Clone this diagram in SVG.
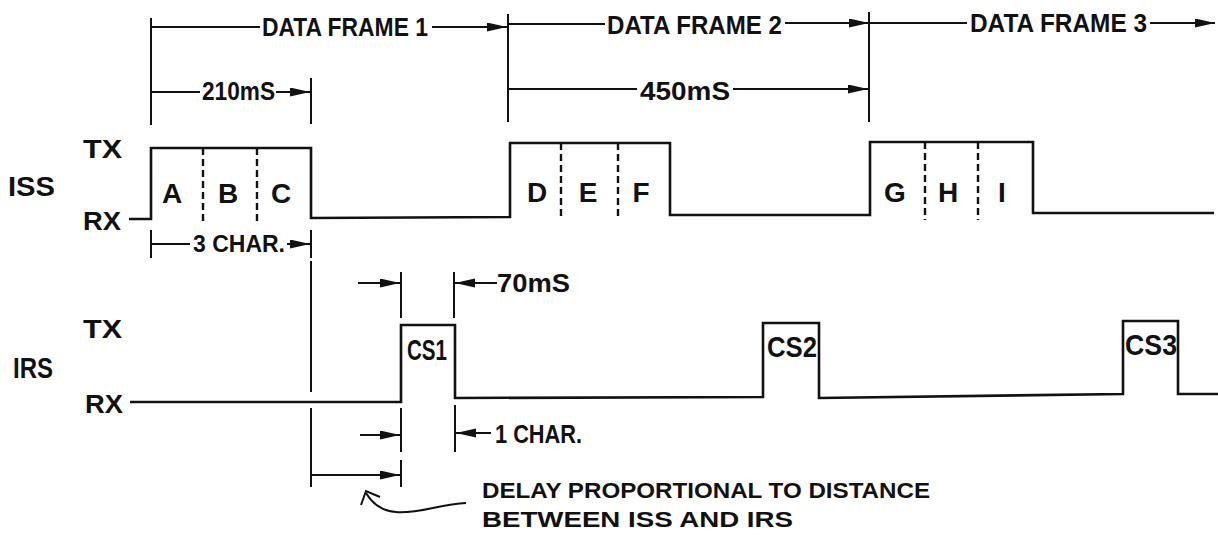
<svg xmlns="http://www.w3.org/2000/svg" width="1218" height="541" viewBox="0 0 1218 541">
<defs>
<style>
.t{font-family:"Liberation Sans",Arial,sans-serif;font-weight:bold;fill:#111;}
.s25{font-size:25px;}
.s23{font-size:23px;}
.s22{font-size:22px;}
.s28{font-size:28px;}
.s30{font-size:30px;}
.w{fill:none;stroke:#111;stroke-width:2.6;stroke-linejoin:miter;}
.l{fill:none;stroke:#111;stroke-width:2;}
.d{fill:none;stroke:#111;stroke-width:2.4;stroke-dasharray:7,4;}
.a{marker-end:url(#ah);}
</style>
<marker id="ah" markerUnits="userSpaceOnUse" markerWidth="22" markerHeight="10" refX="20" refY="4.5" orient="auto">
<path d="M0,0 L20,4.5 L0,9 Z" fill="#111"/>
</marker>
</defs>
<rect width="1218" height="541" fill="#fff"/>

<g id="connectors">
<line class="l" x1="151" y1="27" x2="260" y2="27"/>
<line class="l a" x1="432" y1="27" x2="507" y2="27"/>
<line class="l" x1="508" y1="24" x2="605" y2="24"/>
<line class="l a" x1="785" y1="23" x2="869" y2="23"/>
<line class="l" x1="870" y1="23" x2="967" y2="23"/>
<line class="l a" x1="1150" y1="23" x2="1215" y2="23"/>
<line class="l" x1="151" y1="18" x2="151" y2="125"/>
<line class="l" x1="311" y1="78" x2="311" y2="124"/>
<line class="l" x1="508" y1="14" x2="508" y2="122"/>
<line class="l" x1="869" y1="12" x2="869" y2="122"/>
<line class="l" x1="151" y1="92" x2="200" y2="92"/>
<line class="l a" x1="276" y1="92" x2="310" y2="92"/>
<line class="l" x1="508" y1="89" x2="637" y2="89"/>
<line class="l a" x1="733" y1="89" x2="868" y2="89"/>
<line class="l" x1="151" y1="230" x2="151" y2="258"/>
<line class="l" x1="311" y1="230" x2="311" y2="258"/>
<line class="l" x1="151" y1="244" x2="190" y2="244"/>
<line class="l a" x1="287" y1="244" x2="310" y2="244"/>
<line class="l" x1="311" y1="261" x2="311" y2="392"/>
<line class="l" x1="311" y1="408" x2="311" y2="487"/>
<line class="l" x1="401" y1="272" x2="401" y2="318"/>
<line class="l" x1="454" y1="272" x2="454" y2="318"/>
<line class="l a" x1="358" y1="283" x2="400" y2="283"/>
<line class="l a" x1="497" y1="283" x2="455" y2="283"/>
<line class="l" x1="401" y1="408" x2="401" y2="452"/>
<line class="l" x1="401" y1="460" x2="401" y2="487"/>
<line class="l" x1="455" y1="405" x2="455" y2="452"/>
<line class="l a" x1="360" y1="435" x2="400" y2="435"/>
<line class="l a" x1="491" y1="433" x2="456" y2="433"/>
<line class="l a" x1="312" y1="475" x2="400" y2="475"/>
<path class="l" d="M466,503 C440,504 418,514 396,512 C382,511 372,503 366,493"/>
<path class="l" d="M361,505 L366,491 L380,497"/>
</g>

<g id="iss-waveform">
<polyline class="w" points="129,219 151,219 151,148 311,148 311,218 510,217 510,143 670,143 670,215 870,215 870,142 1033,142 1033,213 1214,213"/>
<line class="d" x1="203" y1="148" x2="203" y2="225"/>
<line class="d" x1="257" y1="148" x2="257" y2="225"/>
<line class="d" x1="561" y1="143" x2="561" y2="218"/>
<line class="d" x1="618" y1="143" x2="618" y2="218"/>
<line class="d" x1="925" y1="142" x2="925" y2="220"/>
<line class="d" x1="978" y1="142" x2="978" y2="220"/>
</g>

<g id="irs-waveform">
<polyline class="w" points="130,402 401,402 401,325 455,325 455,398 763,397 763,323 819,323 819,398 1123,394 1123,321 1178,321 1178,394 1218,394"/>
</g>

<g id="labels">
<text class="t s25" x="262" y="36" textLength="166" lengthAdjust="spacingAndGlyphs">DATA FRAME 1</text>
<text class="t s25" x="607" y="34" textLength="175" lengthAdjust="spacingAndGlyphs">DATA FRAME 2</text>
<text class="t s25" x="970" y="32" textLength="177" lengthAdjust="spacingAndGlyphs">DATA FRAME 3</text>
<text class="t s25" x="202" y="100" textLength="73" lengthAdjust="spacingAndGlyphs">210mS</text>
<text class="t s25" x="640" y="100" textLength="90" lengthAdjust="spacingAndGlyphs">450mS</text>
</g>

<g id="iss">
<text class="t s25" x="83" y="158" textLength="39" lengthAdjust="spacingAndGlyphs">TX</text>
<text class="t s28" x="8" y="196" textLength="47" lengthAdjust="spacingAndGlyphs">ISS</text>
<text class="t s25" x="83" y="230" textLength="38" lengthAdjust="spacingAndGlyphs">RX</text>
<text class="t s23" x="193" y="252" textLength="92" lengthAdjust="spacingAndGlyphs">3 CHAR.</text>
<g text-anchor="middle">
<text class="t s28" x="172" y="203">A</text>
<text class="t s28" x="228" y="203">B</text>
<text class="t s28" x="281" y="203">C</text>
<text class="t s28" x="537" y="202">D</text>
<text class="t s28" x="588" y="202">E</text>
<text class="t s28" x="641" y="202">F</text>
<text class="t s28" x="895" y="202">G</text>
<text class="t s28" x="948" y="202">H</text>
<text class="t s28" x="1002" y="202">I</text>
</g>
</g>

<g id="irs">
<text class="t s25" x="83" y="338" textLength="39" lengthAdjust="spacingAndGlyphs">TX</text>
<text class="t s30" x="13" y="378" textLength="40" lengthAdjust="spacingAndGlyphs">IRS</text>
<text class="t s25" x="85" y="413" textLength="38" lengthAdjust="spacingAndGlyphs">RX</text>
<text class="t s30" x="407" y="360" textLength="40" lengthAdjust="spacingAndGlyphs">CS1</text>
<text class="t s30" x="767" y="357" textLength="50" lengthAdjust="spacingAndGlyphs">CS2</text>
<text class="t s30" x="1125" y="355" textLength="52" lengthAdjust="spacingAndGlyphs">CS3</text>
<text class="t s25" x="497" y="292" textLength="73" lengthAdjust="spacingAndGlyphs">70mS</text>
<text class="t s25" x="495" y="443" textLength="87" lengthAdjust="spacingAndGlyphs">1 CHAR.</text>
</g>

<g id="note">
<text class="t s22" x="482" y="498" textLength="448" lengthAdjust="spacingAndGlyphs">DELAY PROPORTIONAL TO DISTANCE</text>
<text class="t s22" x="482" y="527" textLength="311" lengthAdjust="spacingAndGlyphs">BETWEEN ISS AND IRS</text>
</g>
</svg>
